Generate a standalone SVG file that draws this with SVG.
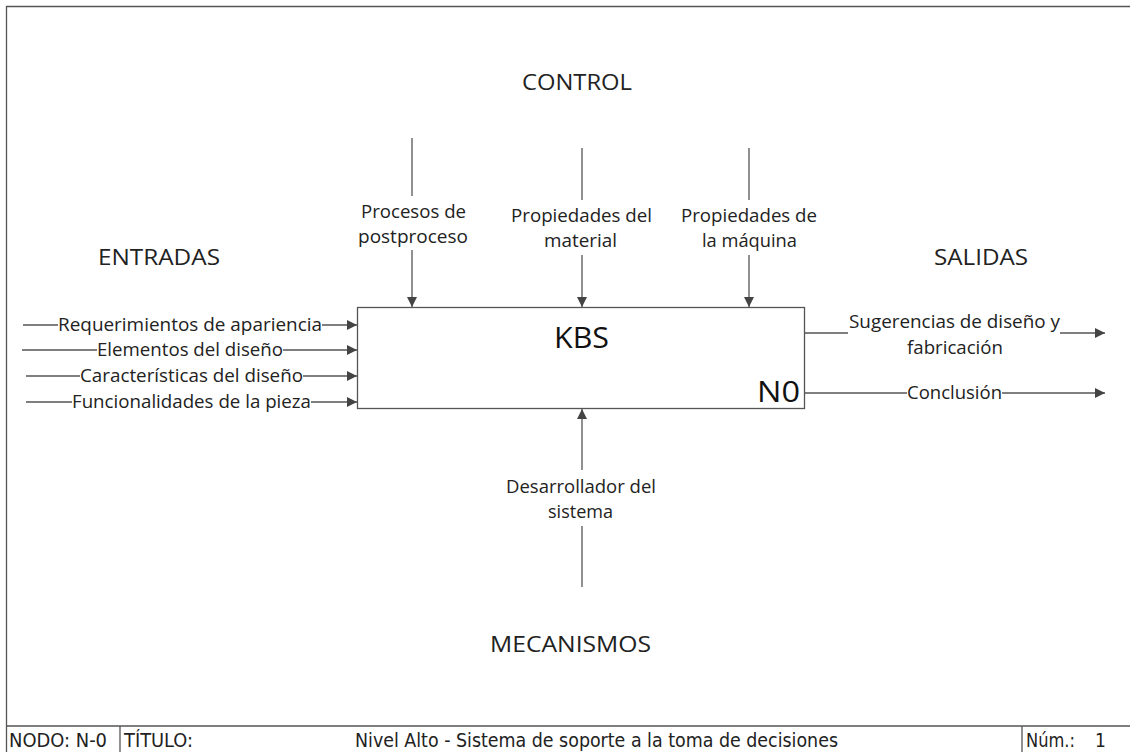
<svg xmlns="http://www.w3.org/2000/svg" width="1130" height="752" viewBox="0 0 1130 752">
  <style>
    .frame { fill: none; stroke: #555; stroke-width: 1.3; }
    .wire { fill: none; stroke: #555; stroke-width: 1.3; }
    .lbl { font-family: "Open Sans", Lato, sans-serif; font-size: 18px; fill: #222; }
    .head { font-family: "Open Sans", Lato, sans-serif; font-size: 21px; fill: #222; }
    .big { font-family: "Open Sans", Lato, sans-serif; font-size: 29px; fill: #111; }
    .foot { font-family: "DejaVu Sans Condensed", "Liberation Sans", sans-serif; font-size: 19px; fill: #222; font-stretch: condensed; }
  </style>
  <defs>
    <marker id="arrow" viewBox="0 0 10 10" refX="10" refY="5" markerWidth="10" markerHeight="10" markerUnits="userSpaceOnUse" orient="auto">
      <path d="M0,0 L10,5 L0,10 z" fill="#444"/>
    </marker>
  </defs>

  <rect width="1130" height="752" fill="#fff"/>

  <!-- sheet frame and title strip -->
  <g id="frame">
    <path class="frame" d="M1130,6.5 H6.5 V752"/>
    <line class="frame" x1="6.5" y1="726" x2="1130" y2="726"/>
    <line class="frame" x1="120" y1="726" x2="120" y2="752"/>
    <line class="frame" x1="1022" y1="726" x2="1022" y2="752"/>
    <text class="foot" x="9" y="747" textLength="98" lengthAdjust="spacingAndGlyphs">NODO: N-0</text>
    <text class="foot" x="124" y="747" textLength="69" lengthAdjust="spacingAndGlyphs">TÍTULO:</text>
    <text class="foot" x="355" y="747" textLength="483" lengthAdjust="spacingAndGlyphs">Nivel Alto - Sistema de soporte a la toma de decisiones</text>
    <text class="foot" x="1026" y="747" textLength="49" lengthAdjust="spacingAndGlyphs">Núm.:</text>
    <text class="foot" x="1095" y="747">1</text>
  </g>

  <!-- section headings -->
  <g id="headings">
    <text class="head" x="522" y="90" textLength="110" lengthAdjust="spacingAndGlyphs">CONTROL</text>
    <text class="head" x="98" y="265" textLength="122" lengthAdjust="spacingAndGlyphs">ENTRADAS</text>
    <text class="head" x="934" y="265" textLength="94" lengthAdjust="spacingAndGlyphs">SALIDAS</text>
    <text class="head" x="490" y="652" textLength="161" lengthAdjust="spacingAndGlyphs">MECANISMOS</text>
  </g>

  <!-- activity box -->
  <g id="kbs">
    <rect x="357.5" y="307.5" width="447" height="101" fill="#fff" stroke="#555" stroke-width="1.3"/>
    <text class="big" x="554" y="348" textLength="55" lengthAdjust="spacingAndGlyphs">KBS</text>
    <text class="big" x="757" y="402" textLength="43" lengthAdjust="spacingAndGlyphs">N0</text>
  </g>

  <!-- connectors -->
  <g id="connectors">
    <!-- inputs -->
    <line class="wire" x1="23" y1="325" x2="58" y2="325"/>
    <line class="wire" x1="322" y1="325" x2="357" y2="325" marker-end="url(#arrow)"/>
    <line class="wire" x1="22" y1="350" x2="97" y2="350"/>
    <line class="wire" x1="283" y1="350" x2="357" y2="350" marker-end="url(#arrow)"/>
    <line class="wire" x1="26" y1="376" x2="80" y2="376"/>
    <line class="wire" x1="303" y1="376" x2="357" y2="376" marker-end="url(#arrow)"/>
    <line class="wire" x1="26" y1="402" x2="72" y2="402"/>
    <line class="wire" x1="311" y1="402" x2="357" y2="402" marker-end="url(#arrow)"/>

    <!-- controls -->
    <line class="wire" x1="412" y1="138" x2="412" y2="196"/>
    <line class="wire" x1="412" y1="250" x2="412" y2="307" marker-end="url(#arrow)"/>
    <line class="wire" x1="582" y1="148" x2="582" y2="200"/>
    <line class="wire" x1="582" y1="255" x2="582" y2="307" marker-end="url(#arrow)"/>
    <line class="wire" x1="749" y1="148" x2="749" y2="200"/>
    <line class="wire" x1="749" y1="255" x2="749" y2="307" marker-end="url(#arrow)"/>

    <!-- mechanism -->
    <line class="wire" x1="582" y1="587" x2="582" y2="526"/>
    <line class="wire" x1="582" y1="470" x2="582" y2="409" marker-end="url(#arrow)"/>

    <!-- outputs -->
    <line class="wire" x1="805" y1="333" x2="848" y2="333"/>
    <line class="wire" x1="1060" y1="333" x2="1105" y2="333" marker-end="url(#arrow)"/>
    <line class="wire" x1="805" y1="393" x2="907" y2="393"/>
    <line class="wire" x1="1002" y1="393" x2="1105" y2="393" marker-end="url(#arrow)"/>
  </g>

  <!-- connector labels -->
  <g id="labels">
    <text class="lbl" x="58" y="331" textLength="264" lengthAdjust="spacingAndGlyphs">Requerimientos de apariencia</text>
    <text class="lbl" x="97" y="356" textLength="186" lengthAdjust="spacingAndGlyphs">Elementos del diseño</text>
    <text class="lbl" x="80" y="382" textLength="223" lengthAdjust="spacingAndGlyphs">Características del diseño</text>
    <text class="lbl" x="72" y="408" textLength="239" lengthAdjust="spacingAndGlyphs">Funcionalidades de la pieza</text>

    <text class="lbl" x="361" y="218" textLength="105" lengthAdjust="spacingAndGlyphs">Procesos de</text>
    <text class="lbl" x="358" y="243" textLength="110" lengthAdjust="spacingAndGlyphs">postproceso</text>
    <text class="lbl" x="511" y="222" textLength="141" lengthAdjust="spacingAndGlyphs">Propiedades del</text>
    <text class="lbl" x="544" y="247" textLength="73" lengthAdjust="spacingAndGlyphs">material</text>
    <text class="lbl" x="681" y="222" textLength="136" lengthAdjust="spacingAndGlyphs">Propiedades de</text>
    <text class="lbl" x="702" y="247" textLength="95" lengthAdjust="spacingAndGlyphs">la máquina</text>

    <text class="lbl" x="506" y="493" textLength="150" lengthAdjust="spacingAndGlyphs">Desarrollador del</text>
    <text class="lbl" x="548" y="518" textLength="65" lengthAdjust="spacingAndGlyphs">sistema</text>

    <text class="lbl" x="849" y="328" textLength="211" lengthAdjust="spacingAndGlyphs">Sugerencias de diseño y</text>
    <text class="lbl" x="907" y="354" textLength="96" lengthAdjust="spacingAndGlyphs">fabricación</text>
    <text class="lbl" x="907" y="399" textLength="95" lengthAdjust="spacingAndGlyphs">Conclusión</text>
  </g>
</svg>
